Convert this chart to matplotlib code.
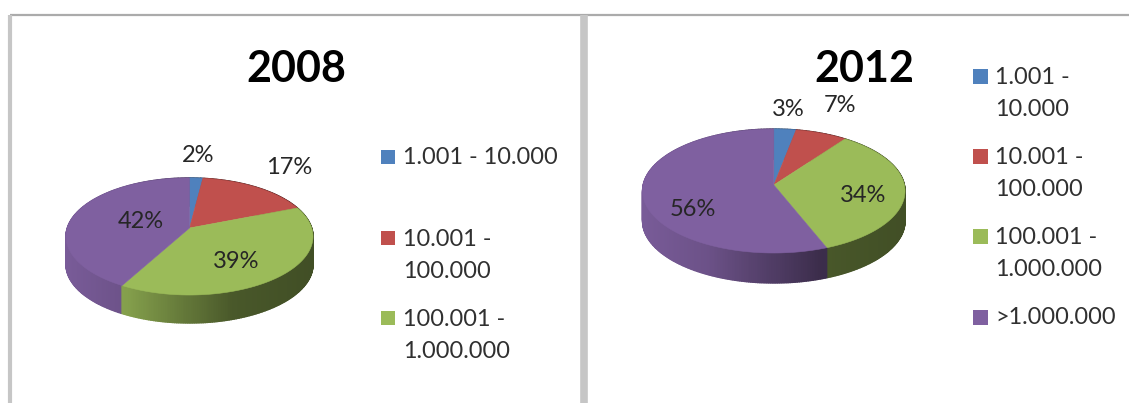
import numpy as np
import matplotlib
matplotlib.use('Agg')
import matplotlib.pyplot as plt

# Dados
categorias_2008 = ['1.001 - 10.000', '10.001 -\n100.000', '100.001 -\n1.000.000']
categorias_2012 = ['1.001 -\n10.000', '10.001 -\n100.000', '100.001 -\n1.000.000', '>1.000.000']
valores_2008 = [2, 17, 39, 42]
valores_2012 = [3, 7, 34, 56]
titulos = ['2008', '2012']
cores = ['#4F81BD', '#C0504D', '#9BBB59', '#7F60A0']

W, H = 1129, 403
plt.rcParams['font.family'] = ['Lato', 'DejaVu Sans']

fig = plt.figure(figsize=(W/100, H/100), dpi=100)
ax = fig.add_axes([0, 0, 1, 1])
ax.set_xlim(0, W)
ax.set_ylim(H, 0)
ax.axis('off')


# disco -> tela, com perspectiva
def projeta(theta, cx, cy, A, B, k):
    u = np.sin(theta)
    v = np.cos(theta)
    w = 1 + k*v
    return cx + A*u/w, cy - B*v/w


def sombra(xnorm):
    return np.interp(xnorm, [-1, -0.5, 0.35, 1], [0.95, 0.85, 0.47, 0.42])


def pizza(valores, cx, cy, A, B, k, depth):
    limites = np.cumsum([0] + valores)/sum(valores)*2*np.pi

    # lateral primeiro (de tras para frente)
    fatias = []
    for i in range(len(valores)):
        n = max(int((limites[i+1]-limites[i])*80), 2)
        th = np.linspace(limites[i], limites[i+1], n+1)
        for a, b in zip(th[:-1], th[1:]):
            fatias.append((np.cos((a+b)/2), a, b, i))
    fatias.sort(key=lambda f: -f[0])
    for _, a, b, i in fatias:
        x0, y0 = projeta(a, cx, cy, A, B, k)
        x1, y1 = projeta(b, cx, cy, A, B, k)
        f = sombra(((x0+x1)/2-cx)/A)
        cor = np.array(matplotlib.colors.to_rgb(cores[i]))*f
        ax.fill([x0, x1, x1, x0], [y0, y1, y1+depth, y0+depth], color=cor, lw=1.0)

    # topo
    for i in range(len(valores)):
        th = np.linspace(limites[i], limites[i+1], 200)
        x, y = projeta(th, cx, cy, A, B, k)
        ax.fill(np.r_[cx, x], np.r_[cy, y], color=cores[i], lw=0.4)


def legenda(categorias, x_quad, x_txt, ys, lado):
    for i, cat in enumerate(categorias):
        ax.fill([x_quad, x_quad+lado, x_quad+lado, x_quad],
                [ys[i]-lado/2, ys[i]-lado/2, ys[i]+lado/2, ys[i]+lado/2], color=cores[i], lw=0)
        for j, linha in enumerate(cat.split('\n')):
            ax.text(x_txt, ys[i]+1+j*32, linha, fontsize=16.9, color='#303030', ha='left', va='center')


# molduras
ax.plot([10, W], [15, 15], color='#ababab', lw=1.6, solid_capstyle='butt')
ax.plot([10, 10], [15, H], color='#c6c6c6', lw=3, solid_capstyle='butt')
ax.plot([584, 584], [15, H], color='#c6c6c6', lw=5.5, solid_capstyle='butt')

pizza(valores_2008, 189.5, 228, 122.2, 57.3, 0.145, 28)
pizza(valores_2012, 773.8, 185, 130.6, 61.4, 0.097, 30)

# titulos
ax.text(296.5, 69, titulos[0], fontsize=31, fontweight='bold', color='black', ha='center', va='center')
ax.text(864.5, 69, titulos[1], fontsize=31, fontweight='bold', color='black', ha='center', va='center')

# rotulos
pos_2008 = [(198, 156), (289, 168), (236, 262), (141, 222)]
pos_2012 = [(788, 109), (840, 105), (863, 195), (693, 210)]
for v, (x, y) in zip(valores_2008, pos_2008):
    ax.text(x, y, f'{v}%', fontsize=17, color='#262626', ha='center', va='center')
for v, (x, y) in zip(valores_2012, pos_2012):
    ax.text(x, y, f'{v}%', fontsize=17, color='#262626', ha='center', va='center')

legenda(categorias_2008, 381, 403, [157, 238, 318], 14)
legenda(categorias_2012, 973, 995, [76, 156, 236, 317], 15)

fig.savefig('out.png', dpi=100)
